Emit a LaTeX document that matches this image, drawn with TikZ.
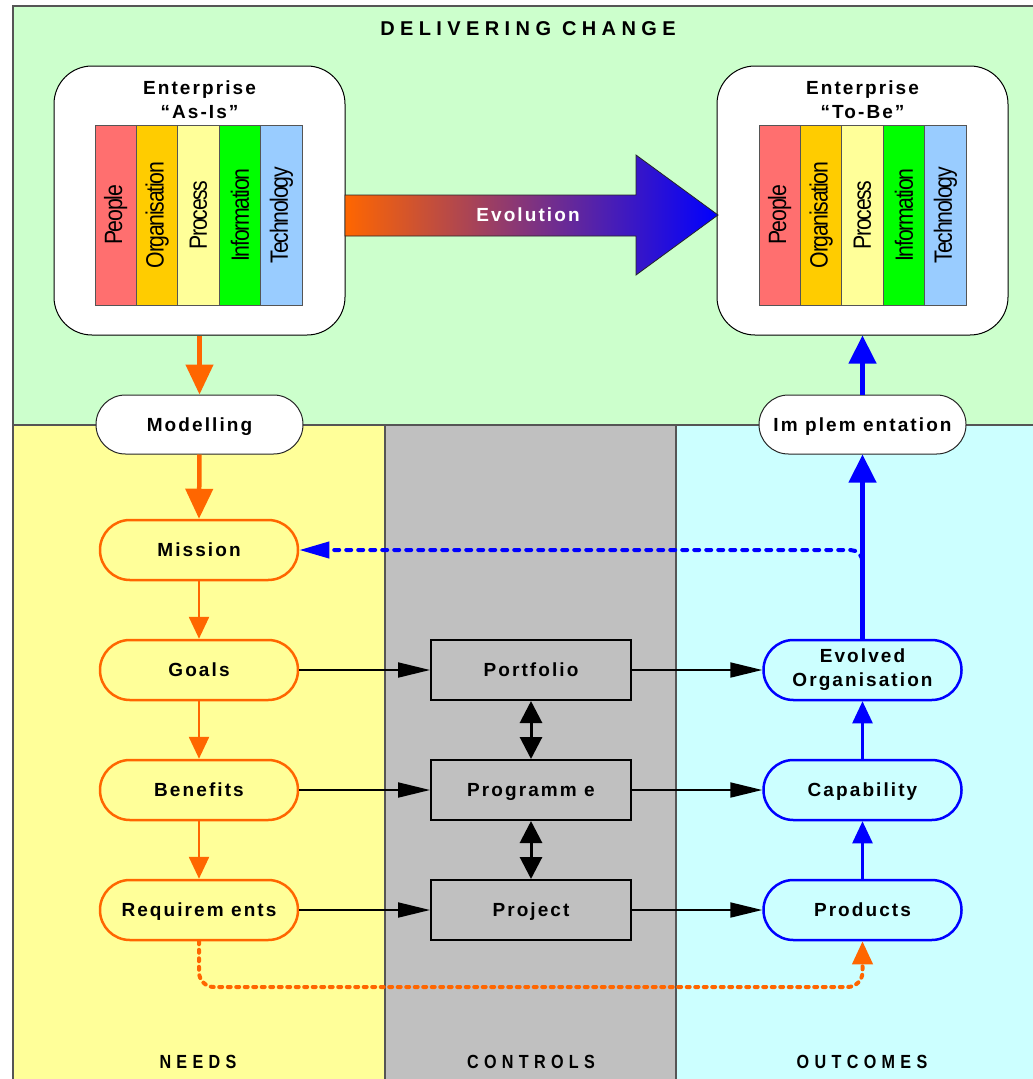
\documentclass[tikz,border=0pt]{standalone}
\usepackage{fontspec}
\setmainfont{Liberation Sans}
\newfontfamily\lsf[LetterSpace=11]{Liberation Sans}
\newfontfamily\lsft[LetterSpace=27]{Liberation Sans}
\newfontfamily\lsfb[LetterSpace=33]{Liberation Sans}
\newfontfamily\lsfn[LetterSpace=-6]{Liberation Sans}
\usetikzlibrary{arrows.meta}
\definecolor{bggreen}{HTML}{CCFFCC}
\definecolor{bgyellow}{HTML}{FFFF99}
\definecolor{bggrey}{HTML}{C0C0C0}
\definecolor{bgcyan}{HTML}{CCFFFF}
\definecolor{dorange}{HTML}{FF6600}
\definecolor{dblue}{HTML}{0000FF}
\definecolor{cpeople}{HTML}{FF6F6F}
\definecolor{corg}{HTML}{FFCC00}
\definecolor{cproc}{HTML}{FFFF99}
\definecolor{cinfo}{HTML}{00FF00}
\definecolor{ctech}{HTML}{99CCFF}
\definecolor{edgegrey}{HTML}{555555}
\begin{document}
\begin{tikzpicture}[x=1pt,y=-1pt,
  lbl/.style={font=\lsf\bfseries\fontsize{19}{24}\selectfont, inner sep=0pt},
  onel/.style={text height=16.5pt, text depth=3pt},
  pill/.style={rectangle, rounded corners=29.9pt, minimum width=198pt, minimum height=60pt, inner sep=0pt, align=center, lbl},
  needpill/.style={pill, onel, draw=dorange, fill=bgyellow, line width=2.5pt},
  outpill/.style={pill, draw=dblue, fill=bgcyan, line width=2.5pt},
  whitepill/.style={pill, onel, minimum width=207pt, minimum height=59pt, rounded corners=29.4pt, draw=black!85, fill=white, line width=1pt},
  ctrlbox/.style={rectangle, onel, draw=black, fill=bggrey, line width=2pt, minimum width=200pt, minimum height=60pt, lbl},
  entbox/.style={rectangle, rounded corners=38pt, draw=black, fill=white, line width=1pt, minimum width=291pt, minimum height=269pt},
  layer/.style={rectangle, draw=edgegrey, line width=0.8pt, minimum width=41.4pt, minimum height=180pt, inner sep=0pt},
  layertext/.style={rotate=90, inner sep=0pt, font=\lsfn\fontsize{25}{25}\selectfont},
  zonelbl/.style={inner sep=0pt, font=\lsfb\bfseries\fontsize{19}{19}\selectfont},
  bigorange/.style={draw=dorange, line width=4.5pt, -{Triangle[width=27pt,length=30pt]}},
  smallorange/.style={draw=dorange, line width=2.5pt, -{Triangle[width=20pt,length=22pt]}},
  bigblue/.style={draw=dblue, line width=4.5pt, -{Triangle[width=27pt,length=28pt]}},
  smallblue/.style={draw=dblue, line width=2.5pt, -{Triangle[width=20pt,length=22pt]}},
  blackarrow/.style={draw=black, line width=2pt, -{Triangle[width=15pt,length=32pt]}},
  dblarrow/.style={draw=black, line width=3pt, {Triangle[width=22pt,length=22pt]}-{Triangle[width=22pt,length=22pt]}},
  bluedash/.style={draw=dblue, line width=4pt, line cap=round, dash pattern=on 5pt off 7pt, rounded corners=12pt, -{Triangle[width=16pt,length=30pt]}},
  orangedot/.style={draw=dorange, line width=4pt, line cap=round, dash pattern=on 3pt off 5.5pt, rounded corners=15pt, -{Triangle[width=20pt,length=23pt]}},
]
\useasboundingbox (0,0) rectangle (1033,1079);
\clip (0,0) rectangle (1033,1079);
% backgrounds
\fill[white] (0,0) rectangle (1033,1079);
\filldraw[fill=bggreen, draw=edgegrey, line width=1.2pt] (13,6) rectangle (1040,425);
\filldraw[fill=bgyellow, draw=edgegrey, line width=1.2pt] (13,425) rectangle (385,1090);
\filldraw[fill=bggrey, draw=edgegrey, line width=1.2pt] (385,425) rectangle (676,1090);
\filldraw[fill=bgcyan, draw=edgegrey, line width=1.2pt] (676,425) rectangle (1040,1090);
\node[inner sep=0pt, font=\lsft\bfseries\fontsize{20}{20}\selectfont] (title) at (528,29) {DELIVERING CHANGE};
% enterprise boxes
\node[entbox] (asis) at (199.5,200.5) {};
\node[entbox] (tobe) at (862.5,200.5) {};
\node[lbl, anchor=base] (asis1) at (199.5,94) {Enterprise};
\node[lbl, anchor=base] (asis2) at (199.5,118) {“As-Is”};
\node[lbl, anchor=base] (tobe1) at (862.5,94) {Enterprise};
\node[lbl, anchor=base] (tobe2) at (862.5,118) {“To-Be”};
\foreach \ox/\nm in {95/a,759/t}{
  \foreach \i/\c/\t in {0/cpeople/People,1/corg/Organisation,2/cproc/Process,3/cinfo/Information,4/ctech/Technology}{
    \node[layer, fill=\c] (\nm\i) at ({\ox+20.7+41.4*\i},215) {};
    \node[layertext] (\nm t\i) at ({\ox+20.7+41.4*\i},215) {\scalebox{0.85}[1]{\t}};
  }
}
% evolution arrow
\shadedraw[left color=dorange, right color=dblue, draw=black!85, line width=0.8pt]
  (345,195) -- (636,195) -- (636,155) -- (718,215) -- (636,275) -- (636,236) -- (345,236) -- cycle;
\node[lbl, text=white] (evo) at (528,215) {Evolution};
% pills
\node[whitepill] (modelling) at (199.5,424.5) {Modelling};
\node[whitepill] (implementation) at (862.5,424.5) {Im plem entation};
\node[needpill] (mission) at (199,550) {Mission};
\node[needpill] (goals) at (199,670) {Goals};
\node[needpill] (benefits) at (199,790) {Benefits};
\node[needpill] (requirements) at (199,910) {Requirem ents};
\node[ctrlbox] (portfolio) at (531,670) {Portfolio};
\node[ctrlbox] (programme) at (531,790) {Programm e};
\node[ctrlbox] (project) at (531,910) {Project};
\node[outpill] (evolved) at (862.5,670) {Evolved\\Organisation};
\node[outpill, onel] (capability) at (862.5,790) {Capability};
\node[outpill, onel] (products) at (862.5,910) {Products};
% zone labels
\node[zonelbl] (needs) at (198,1062) {\scalebox{0.85}[1]{NEEDS}};
\node[zonelbl] (controls) at (531,1062) {\scalebox{0.85}[1]{CONTROLS}};
\node[zonelbl] (outcomes) at (862,1062) {\scalebox{0.85}[1]{OUTCOMES}};
% connectors
\draw[bigorange] (asis.south) -- (modelling.north);
\draw[bigorange] (modelling.south) -- (mission.north);
\draw[smallorange] (mission.south) -- (goals.north);
\draw[smallorange] (goals.south) -- (benefits.north);
\draw[smallorange] (benefits.south) -- (requirements.north);
\draw[blackarrow] (goals.east) -- (portfolio.west);
\draw[blackarrow] (benefits.east) -- (programme.west);
\draw[blackarrow] (requirements.east) -- (project.west);
\draw[blackarrow] (portfolio.east) -- (evolved.west);
\draw[blackarrow] (programme.east) -- (capability.west);
\draw[blackarrow] (project.east) -- (products.west);
\draw[dblarrow] (portfolio.south) -- (programme.north);
\draw[dblarrow] (programme.south) -- (project.north);
\draw[smallblue] (products.north) -- (capability.south);
\draw[smallblue] (capability.north) -- (evolved.south);
\draw[bigblue] (evolved.north) -- (implementation.south);
\draw[bigblue] (implementation.north) -- (tobe.south);
\coordinate (dj) at (862.5,572);
\draw[bluedash] (dj) |- (mission.east);
\coordinate (lowy) at (0,987);
\draw[orangedot] (requirements.south) -- (requirements.south |- lowy) -- (products.south |- lowy) -- (products.south);
\end{tikzpicture}
\end{document}
